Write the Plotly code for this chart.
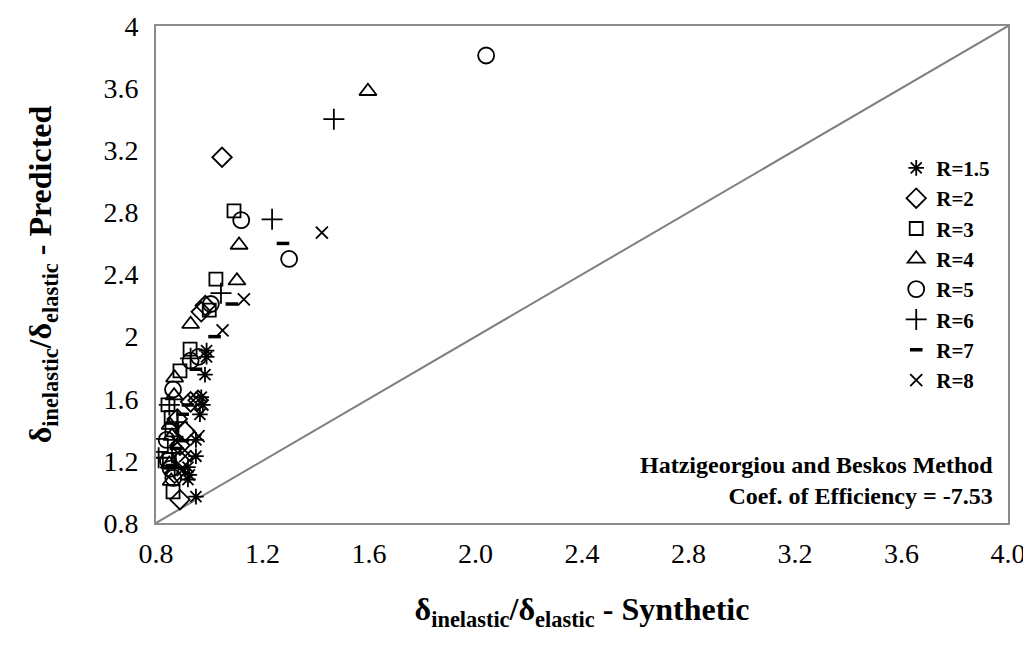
import plotly.graph_objects as go

# series values (synthetic x, predicted y)
r15_x = [0.99, 0.99, 0.984, 0.97, 0.976, 0.965, 0.95, 0.95, 0.92, 0.925, 0.92, 0.95]
r15_y = [1.91, 1.87, 1.755, 1.61, 1.56, 1.50, 1.335, 1.23, 1.16, 1.11, 1.08, 0.97]
r2_x = [1.048, 0.97, 0.958, 0.909, 0.89, 0.89, 0.93, 0.88, 0.87, 0.90, 0.985]
r2_y = [3.155, 2.16, 1.59, 1.39, 1.30, 0.95, 1.58, 1.47, 1.12, 1.22, 2.20]
r3_x = [1.093, 1.025, 1.0, 0.928, 0.89, 0.845, 0.857, 0.82, 0.864, 0.85, 0.86]
r3_y = [2.81, 2.37, 2.17, 1.92, 1.78, 1.56, 1.48, 1.30, 1.0, 1.21, 1.40]
r4_x = [1.596, 1.112, 1.104, 0.93, 0.87, 0.868, 0.853, 0.857, 0.85, 0.86]
r4_y = [3.58, 2.59, 2.36, 2.08, 1.735, 1.62, 1.43, 1.07, 1.18, 1.36]
r5_x = [2.04, 1.12, 1.30, 1.006, 0.93, 0.864, 0.84, 0.845, 0.855, 0.865, 0.96]
r5_y = [3.81, 2.75, 2.50, 2.21, 1.845, 1.66, 1.335, 1.20, 1.15, 1.09, 1.87]
r6_x = [1.468, 1.236, 1.044, 0.93, 0.85, 0.86, 0.88, 0.87, 0.81]
r6_y = [3.40, 2.755, 2.28, 1.86, 1.56, 1.25, 1.45, 1.15, 1.22]
r7_x = [1.277, 1.085, 1.02, 0.95, 0.92, 0.90, 0.875, 0.86, 0.90]
r7_y = [2.60, 2.21, 2.0, 1.79, 1.56, 1.50, 1.28, 1.17, 1.33]
r8_x = [1.423, 1.13, 1.05, 0.94, 0.91, 0.90, 0.88, 0.96]
r8_y = [2.67, 2.24, 2.04, 1.59, 1.23, 1.14, 1.32, 1.36]

names = ['R=1.5', 'R=2', 'R=3', 'R=4', 'R=5', 'R=6', 'R=7', 'R=8']
xs = [r15_x, r2_x, r3_x, r4_x, r5_x, r6_x, r7_x, r8_x]
ys = [r15_y, r2_y, r3_y, r4_y, r5_y, r6_y, r7_y, r8_y]
symbols = ['asterisk-open', 'diamond-open', 'square-open', 'triangle-up-open',
           'circle-open', 'cross-thin-open', 'line-ew-open', 'x-thin-open']
sizes = [13, 15, 13, 15, 16, 15, 9, 12]

serif = 'Liberation Serif, Times New Roman, serif'

fig = go.Figure()

# 1:1 line
fig.add_trace(go.Scatter(x=[0.8, 4.0], y=[0.8, 4.0], mode='lines',
                         line=dict(color='#808080', width=2),
                         showlegend=False, hoverinfo='skip'))

for n, x, y, s, sz in zip(names, xs, ys, symbols, sizes):
    fig.add_trace(go.Scatter(
        x=x, y=y, mode='markers', name=n,
        marker=dict(symbol=s, size=sz, color='black',
                    line=dict(color='black', width=3.5 if s == 'line-ew-open' else 1.8))))

fig.add_annotation(
    text='<b>Hatzigeorgiou and Beskos Method</b><br><b>Coef. of Efficiency = -7.53</b>',
    xref='paper', yref='paper', x=0.985, y=0.025, xanchor='right', yanchor='bottom',
    align='right', showarrow=False, font=dict(family=serif, size=24, color='black'))

fig.update_layout(
    width=1031, height=651,
    margin=dict(l=148, r=31, t=18, b=136),
    plot_bgcolor='white', paper_bgcolor='white',
    font=dict(family=serif, color='black'),
    showlegend=True,
    legend=dict(x=0.985, y=0.755, xanchor='right', yanchor='top',
                font=dict(family=serif, size=21, color='black', weight='bold'),
                bgcolor='rgba(0,0,0,0)', itemwidth=30, tracegroupgap=0),
    xaxis=dict(range=[0.8, 4.0], tickvals=[0.8, 1.2, 1.6, 2.0, 2.4, 2.8, 3.2, 3.6, 4.0],
               tickformat='.1f', showgrid=False, zeroline=False, automargin=False,
               showline=True, mirror=True, linecolor='#8c8c8c', linewidth=2,
               ticks='', ticklabelstandoff=4, tickfont=dict(size=28),
               title=dict(text='<b>δ<sub>inelastic</sub>/δ<sub>elastic</sub> - Synthetic</b>',
                          font=dict(size=32), standoff=30)),
    yaxis=dict(range=[0.8, 4.0], tickvals=[0.8, 1.2, 1.6, 2.0, 2.4, 2.8, 3.2, 3.6, 4.0],
               ticktext=['0.8', '1.2', '1.6', '2', '2.4', '2.8', '3.2', '3.6', '4'],
               showgrid=False, zeroline=False, automargin=False,
               showline=True, mirror=True, linecolor='#8c8c8c', linewidth=2,
               ticks='', ticklabelstandoff=10, tickfont=dict(size=28),
               title=dict(text='<b>δ<sub>inelastic</sub>/δ<sub>elastic</sub> - Predicted</b>',
                          font=dict(size=32), standoff=42)),
)

fig.write_html('out.html')
